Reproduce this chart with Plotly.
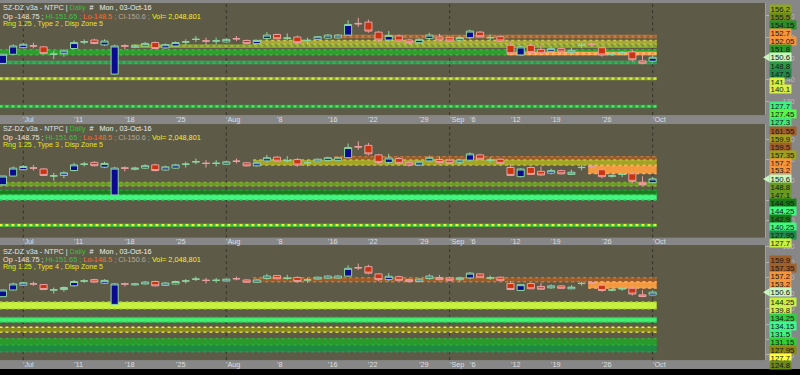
import plotly.graph_objects as go

# ---------------- data ----------------
dates = ["2016-06-29", "2016-06-30", "2016-07-01", "2016-07-04", "2016-07-05", "2016-07-07", "2016-07-08",
         "2016-07-11", "2016-07-12", "2016-07-13", "2016-07-14", "2016-07-15", "2016-07-18", "2016-07-19",
         "2016-07-20", "2016-07-21", "2016-07-22", "2016-07-25", "2016-07-26", "2016-07-27", "2016-07-28",
         "2016-07-29", "2016-08-01", "2016-08-02", "2016-08-03", "2016-08-04", "2016-08-05", "2016-08-08",
         "2016-08-09", "2016-08-10", "2016-08-11", "2016-08-12", "2016-08-16", "2016-08-17", "2016-08-18",
         "2016-08-19", "2016-08-22", "2016-08-23", "2016-08-24", "2016-08-25", "2016-08-26", "2016-08-29",
         "2016-08-30", "2016-08-31", "2016-09-01", "2016-09-02", "2016-09-06", "2016-09-07", "2016-09-08",
         "2016-09-09", "2016-09-12", "2016-09-14", "2016-09-15", "2016-09-16", "2016-09-19", "2016-09-20",
         "2016-09-21", "2016-09-22", "2016-09-23", "2016-09-26", "2016-09-27", "2016-09-28", "2016-09-29",
         "2016-09-30", "2016-10-03"]
opens = [147.7, 152.0, 155.1, 156.0, 155.5, 152.0, 152.3, 154.7, 157.75, 158.7, 156.4, 142.7, 156.0, 155.3,
         155.9, 157.5, 155.0, 155.9, 157.75, 158.95, 158.3, 158.2, 157.8, 159.35, 158.5, 157.0, 159.45, 161.3,
         159.5, 160.1, 158.45, 159.0, 159.6, 159.7, 161.0, 166.5, 167.1, 162.4, 158.7, 160.6, 158.7, 157.45,
         159.45, 160.1, 159.8, 158.7, 159.8, 162.4, 159.75, 160.25, 156.2, 151.7, 156.2, 154.3, 153.4, 154.65,
         152.8, 156.15, 156.7, 155.1, 151.95, 152.75, 153.1, 148.9, 148.75]
highs = [152.2, 156.7, 157.4, 157.4, 155.8, 153.6, 154.3, 158.5, 159.0, 159.3, 159.0, 156.5, 156.7, 156.6,
         157.8, 158.0, 157.1, 158.0, 159.0, 160.6, 159.8, 159.8, 159.5, 160.6, 158.9, 158.9, 162.4, 161.7,
         161.8, 160.85, 159.8, 160.6, 161.5, 161.5, 168.0, 169.1, 168.3, 162.9, 162.9, 161.3, 159.3, 159.5,
         162.1, 161.6, 160.6, 160.6, 163.6, 162.9, 161.3, 160.6, 157.8, 155.9, 156.7, 156.66, 155.6, 155.1,
         155.1, 157.45, 157.45, 155.9, 153.1, 153.6, 154.3, 151.9, 151.65]
lows = [147.5, 151.8, 154.7, 154.7, 152.0, 149.7, 150.9, 154.3, 156.7, 156.7, 155.9, 142.5, 154.3, 154.8,
        155.5, 154.3, 154.6, 155.6, 156.2, 157.8, 156.2, 156.7, 157.4, 158.25, 156.7, 156.7, 158.7, 158.9,
        158.7, 156.66, 156.7, 158.7, 159.3, 159.4, 160.7, 164.9, 162.1, 157.8, 157.8, 157.8, 156.66, 157.0,
        158.7, 158.25, 157.8, 157.45, 159.0, 159.8, 158.5, 157.8, 152.1, 151.4, 152.5, 152.3, 152.8, 152.8,
        152.5, 154.8, 155.6, 150.9, 151.25, 151.5, 148.5, 147.3, 148.5]
closes = [152.0, 155.9, 156.7, 155.9, 152.3, 152.1, 153.6, 157.5, 157.85, 157.1, 158.2, 155.9, 155.85, 155.9,
          157.1, 154.7, 156.5, 157.5, 157.85, 159.05, 158.2, 158.3, 159.0, 159.25, 157.0, 158.5, 161.0, 159.3,
          159.6, 157.45, 158.55, 160.25, 161.0, 161.0, 166.0, 166.3, 162.9, 158.7, 160.85, 158.25, 157.45, 159.0,
          161.0, 158.7, 158.25, 159.9, 162.9, 160.25, 159.85, 158.25, 152.3, 155.45, 152.8, 152.5, 154.65, 153.1,
          153.85, 156.25, 156.6, 151.7, 152.05, 152.85, 149.4, 147.8, 150.6]

tick_dates = ["2016-07-01", "2016-07-11", "2016-07-18", "2016-07-25", "2016-08-01", "2016-08-08", "2016-08-16",
              "2016-08-22", "2016-08-29", "2016-09-01", "2016-09-06", "2016-09-12", "2016-09-19", "2016-09-26",
              "2016-10-03"]
tick_text = ["'Jul", "'11", "'18", "'25", "'Aug", "'8", "'16", "'22", "'29", "'Sep", "'6", "'12", "'19", "'26", "'Oct"]
month_dates = ["2016-07-01", "2016-08-01", "2016-09-01", "2016-10-03"]

last_price = 150.6

# panel 1 (Type 2) zones
p1_zone_hi = [161.0, 158.5, 156.2, 154.15, 152.7, 148.8, 141.0, 127.7]
p1_zone_lo = [159.65, 156.7, 155.5, 151.8, 152.05, 147.5, 140.1, 127.3]
p1_zone_from = ["2016-08-17", "2016-08-04", "2016-07-19", "2016-06-29", "2016-09-12", "2016-06-29", "2016-06-29", "2016-06-29"]
p1_labels = [156.2, 155.5, 154.15, 152.7, 152.05, 151.8, 150.6, 148.8, 147.5, 141.0, 140.1, 127.7, 127.45, 127.3]

# panel 2 (Type 3) zones
p2_zone_hi = [161.55, 159.9, 157.2, 148.8, 144.25, 144.95, 127.95]
p2_zone_lo = [159.5, 157.35, 153.2, 147.1, 140.25, 142.9, 127.7]
p2_zone_from = ["2016-08-17", "2016-08-04", "2016-09-23", "2016-06-29", "2016-06-29", "2016-06-29", "2016-06-29"]
p2_labels = [161.55, 159.9, 159.5, 157.35, 157.2, 153.2, 150.6, 148.8, 147.1, 144.95, 144.25, 142.9, 140.25, 127.95, 127.7]

# panel 3 (Type 4) zones
p3_zone_hi = [159.9, 157.2, 144.25, 134.2, 127.95, 120.6, 116.3]
p3_zone_lo = [157.35, 153.2, 139.8, 131.15, 124.8, 116.3, 112.0]
p3_zone_from = ["2016-08-04", "2016-09-23", "2016-06-29", "2016-06-29", "2016-06-29", "2016-06-29", "2016-06-29"]
p3_labels = [159.9, 157.35, 157.2, 153.2, 150.6, 144.25, 139.8, 134.25, 134.15, 131.5, 131.15, 127.95, 127.7, 124.8]

# ---------------- styles ----------------
BROWN, OLIVE, ORANGE = "#9c5c2a", "#a3a326", "#f39a40"
p1_zone_style = [(BROWN, "#c47a3a"), ("#a8a82e", "#c8c848"), ("#7f9c22", "#9ab83a"), ("#2e9e2e", "#3cb43c"),
                 ("#f0903a", "#ffb060"), ("#23904a", "#38b058"), ("#d2f040", "#8aa028"), ("#48f060", "#28a040")]
p2_zone_style = [(BROWN, "#c47a3a"), (OLIVE, "#c0c040"), (ORANGE, "#ffb060"), ("#6a9c22", "#80b030"),
                 ("#40f880", "#30d060"), ("#1c7c1c", "#2aa03a"), ("#f0f030", "#3cb040")]
p3_zone_style = [(BROWN, "#c47a3a"), (ORANGE, "#ffb060"), ("#c8f040", "#a8d030"), ("#40f070", "#30c050"),
                 ("#8a8a18", "#f0f040"), ("#2a9a2a", "#38b038"), ("#1f8a42", "#2aa050")]
p1_label_colors = ["#8fa822", "#6f8c1c", "#2c8c2c", "#f5963c", "#f5963c", "#2a9a2a", "#c8f5c0",
                   "#2e9a46", "#22884a", "#d8f040", "#d8f048", "#40f080", "#58f848", "#40e878"]
p2_label_colors = ["#a0602a", "#a0a020", "#a0602a", "#a0a020", "#f5963c", "#f5963c", "#c8f5c0",
                   "#6a9a20", "#6a9a20", "#1a7a1a", "#40f880", "#1a7a1a", "#40f880", "#1f8a4a", "#c8f040"]
p3_label_colors = ["#a0602a", "#a0602a", "#f5963c", "#f5963c", "#c8f5c0", "#c8f040", "#d0f050",
                   "#30d040", "#40f890", "#40f080", "#30d030", "#8a8a10", "#ffff40", "#6a8a20"]

FONT = "Liberation Sans, Arial, sans-serif"
W, H = 800, 375
PLOT_RIGHT = 765
PANEL_PX = [(0, 113), (122, 236.5), (244, 360)]
STRIP_Y = [117.5, 240.3, 364.3]
HEADER_TOP = [0, 122, 245]
Y_RANGE = [(123.43, 176.09), (121.72, 177.58), (106.69, 181.05)]
X_RANGE = [-0.2956, 75.07]
TYPES = [2, 3, 4]

zones = [(p1_zone_hi, p1_zone_lo, p1_zone_from, p1_zone_style),
         (p2_zone_hi, p2_zone_lo, p2_zone_from, p2_zone_style),
         (p3_zone_hi, p3_zone_lo, p3_zone_from, p3_zone_style)]
labels = [(p1_labels, p1_label_colors), (p2_labels, p2_label_colors), (p3_labels, p3_label_colors)]

xs = list(range(len(dates)))
idx = {d: i for i, d in enumerate(dates)}
last_x = xs[-1]


def ypx(k, p):
    top, bot = PANEL_PX[k]
    lo, hi = Y_RANGE[k]
    return top + (hi - p) / (hi - lo) * (bot - top)


def paper_y(px):
    return 1 - px / H


fig = go.Figure()
shapes, annotations = [], []

for k in range(3):
    sfx = "" if k == 0 else str(k + 1)
    xa, ya = "x" + sfx, "y" + sfx
    fig.add_trace(go.Candlestick(
        x=xs, open=opens, high=highs, low=lows, close=closes, xaxis=xa, yaxis=ya,
        increasing=dict(line=dict(color="#8fd6a0", width=1), fillcolor="#0b0b8e"),
        decreasing=dict(line=dict(color="#eaa0a0", width=1), fillcolor="#c8340f"),
        whiskerwidth=0, showlegend=False, hoverinfo="skip"))

    top, bot = PANEL_PX[k]
    ticks = list(range(130, 171, 10)) if k < 2 else list(range(110, 181, 10))
    fig.layout["yaxis" + sfx] = dict(
        domain=[paper_y(bot), paper_y(top)], range=list(Y_RANGE[k]), side="right", anchor=xa,
        showgrid=False, zeroline=False, tickvals=ticks, ticks="outside", ticklen=3, tickcolor="#b4b4b4",
        tickfont=dict(size=7.3, color="#bdbdbd", family=FONT), ticklabelstandoff=12,
        showline=True, linecolor="#a0a0a0", linewidth=1, fixedrange=True)
    fig.layout["xaxis" + sfx] = dict(
        domain=[0, PLOT_RIGHT / W], range=X_RANGE, anchor=ya, showgrid=False, zeroline=False,
        showticklabels=False, ticks="", rangeslider=dict(visible=False), showline=False, fixedrange=True)

    # month separators
    for m in month_dates:
        shapes.append(dict(type="line", xref=xa, yref=ya + " domain", x0=idx[m], x1=idx[m], y0=0, y1=1,
                           line=dict(color="#35342a", width=1, dash="dot"), layer="below"))

    # zones
    zhi, zlo, zfrom, zsty = zones[k]
    for hi, lo, fr, (fill, edge) in zip(zhi, zlo, zfrom, zsty):
        x0 = idx[fr] - 0.35
        x1 = last_x + 0.4
        thick = ypx(k, lo) - ypx(k, hi)
        if thick < 3:
            mid = (hi + lo) / 2
            shapes.append(dict(type="line", xref=xa, yref=ya, x0=x0, x1=x1, y0=mid, y1=mid,
                               line=dict(color=edge, width=3.4), layer="below"))
            shapes.append(dict(type="line", xref=xa, yref=ya, x0=x0, x1=x1, y0=mid, y1=mid,
                               line=dict(color=fill, width=2.2, dash="dot"), layer="below"))
            continue
        shapes.append(dict(type="rect", xref=xa, yref=ya, x0=x0, x1=x1, y0=lo, y1=hi,
                           fillcolor=fill, line=dict(width=0), layer="below"))
        for yy in (hi, lo):
            shapes.append(dict(type="line", xref=xa, yref=ya, x0=x0, x1=x1, y0=yy, y1=yy,
                               line=dict(color=edge, width=1.4, dash="dot"), layer="below"))

    # x tick labels in the strip
    for d, t in zip(tick_dates, tick_text):
        annotations.append(dict(xref=xa, yref="paper", x=idx[d] - 0.2, y=paper_y(STRIP_Y[k]), text=t,
                                showarrow=False, xanchor="left", yanchor="middle",
                                font=dict(size=7.3, color="#dedede", family=FONT)))

    # header
    ht = HEADER_TOP[k]
    l1 = ('<span style="color:#e4e4e4">SZ-DZ v3a - NTPC | </span><span style="color:#35c035">Daily</span>'
          '<span style="color:#f0f0f0">\u00a0\u00a0#\u00a0\u00a0 Mon , 03-Oct-16</span>')
    l2 = ('<span style="color:#e4e4e4">Op -148.75 ; </span><span style="color:#3fc03f">Hi-151.65 ; </span>'
          '<span style="color:#ff6a30">Lo-148.5 ; </span><span style="color:#b8a898">Cl-150.6 ; </span>'
          '<span style="color:#f4f020">Vol= 2,048,801</span>')
    l3 = '<span style="color:#e6e620">Rng 1.25 , Type %d , Disp Zone 5</span>' % TYPES[k]
    sizes = [7.2, 7.3, 7.1]
    for j, txt in enumerate([l1, l2, l3]):
        annotations.append(dict(xref="paper", yref="paper", x=0.001, y=paper_y(ht + 5 + 8.3 * j), text=txt,
                                showarrow=False, xanchor="left", yanchor="middle",
                                font=dict(size=sizes[j], family=FONT)))

    # right price labels (stacked away from the last price)
    vals, cols = labels[k]
    pos = {}
    cur_px = ypx(k, last_price)
    pos[last_price] = cur_px
    above = sorted([v for v in vals if v > last_price])
    below = sorted([v for v in vals if v < last_price], reverse=True)
    prev, gap = cur_px, 8.5
    for v in above:
        y = min(ypx(k, v), prev - gap)
        pos[v] = y
        prev, gap = y, 8
    prev, gap = cur_px, 8.5
    for v in below:
        y = max(ypx(k, v), prev + gap)
        pos[v] = y
        prev, gap = y, 8
    for v, c in zip(vals, cols):
        txt = ("%.2f" % v).rstrip("0").rstrip(".")
        annotations.append(dict(xref="paper", yref="paper", x=769 / W, y=paper_y(pos[v]), text=txt,
                                showarrow=False, xanchor="left", yanchor="middle", bgcolor=c,
                                borderpad=0.6, height=7.2,
                                font=dict(size=7.8, color="#141414", family=FONT)))
    # arrow of the last-price label
    yc = paper_y(cur_px)
    d = 4 / H
    shapes.append(dict(type="path", xref="paper", yref="paper",
                       path="M %f,%f L %f,%f L %f,%f Z" % (763 / W, yc, 769.5 / W, yc + d, 769.5 / W, yc - d),
                       fillcolor="#c8f5c0", line=dict(width=0), layer="above"))

# bottom black band
shapes.append(dict(type="rect", xref="paper", yref="paper", x0=0, x1=1, y0=0, y1=6 / H,
                   fillcolor="#000000", line=dict(width=0), layer="above"))

fig.update_layout(
    width=W, height=H, margin=dict(l=0, r=0, t=0, b=0),
    paper_bgcolor="#878787", plot_bgcolor="#5e5a48",
    boxgap=0.3, boxgroupgap=0,
    shapes=shapes, annotations=annotations, showlegend=False,
    font=dict(family=FONT),
)

fig.write_html("out.html")
